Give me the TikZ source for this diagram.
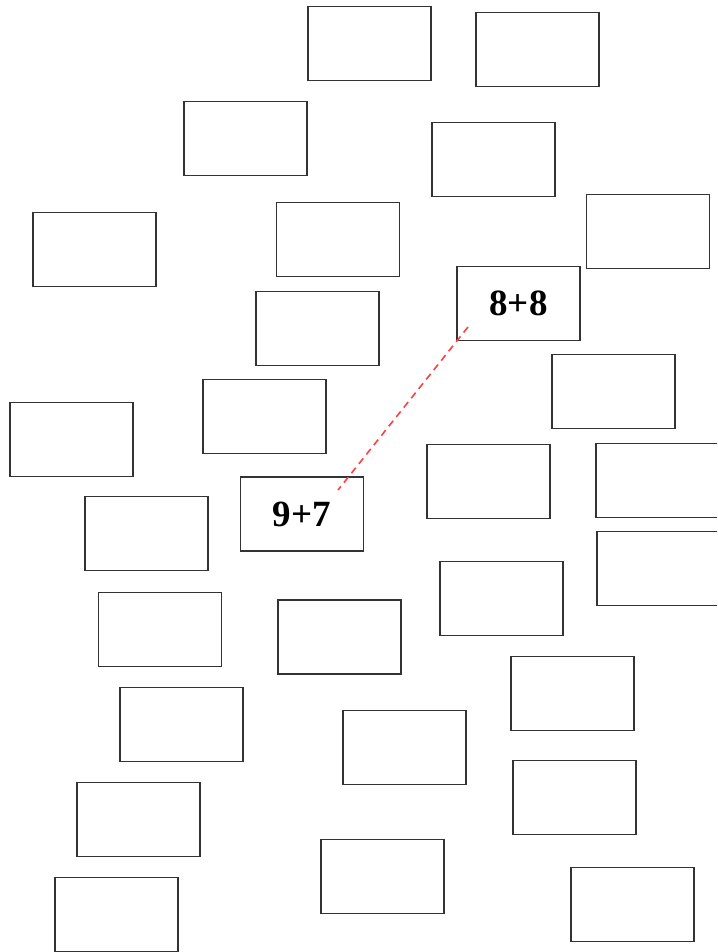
\documentclass[tikz,border=0pt]{standalone}
\usepackage{fontspec}
\setmainfont{Liberation Serif}
\usepackage{tikz}

\begin{document}
\begin{tikzpicture}[x=1pt, y=-1pt,
  box/.style={draw=black!80, line width=1.4pt, minimum width=123pt, minimum height=74pt, inner sep=0pt},
  sum/.style={box, font=\fontsize{37}{42}\selectfont\bfseries}]
  \useasboundingbox (0,0) rectangle (717,952);
  \clip (0,0) rectangle (717,952);
  % empty boxes
  \foreach \x/\y [count=\i] in {369.5/43.5, 537.5/49.5, 245.5/138.5, 493.5/159.5,
      94.5/249.5, 338/239.5, 648/231.5, 317.5/328.5, 613.5/391.5, 264.5/416.5,
      71.5/439.5, 488.5/481.5, 657.5/480.5, 146.5/533.5, 658.5/568.5, 501.5/598.5,
      160/629.5, 339.5/637, 572.5/693.5, 181.5/724.5, 404.5/747.5, 574.5/797.5,
      138.5/819.5, 382.5/876.5, 116.5/914.5, 632.5/904.5}
    \node[box] (b\i) at (\x,\y) {};
  % labelled boxes
  \node[sum] (eight) at (518.5,303.5) {8+8};
  \node[sum] (nine) at (302,514) {9+7};
  \coordinate (from) at (468,327);
  \coordinate (to) at (338,490);
  \draw[red!75, line width=1.6pt, dash pattern=on 7pt off 5pt] (from) -- (to);
\end{tikzpicture}
\end{document}
